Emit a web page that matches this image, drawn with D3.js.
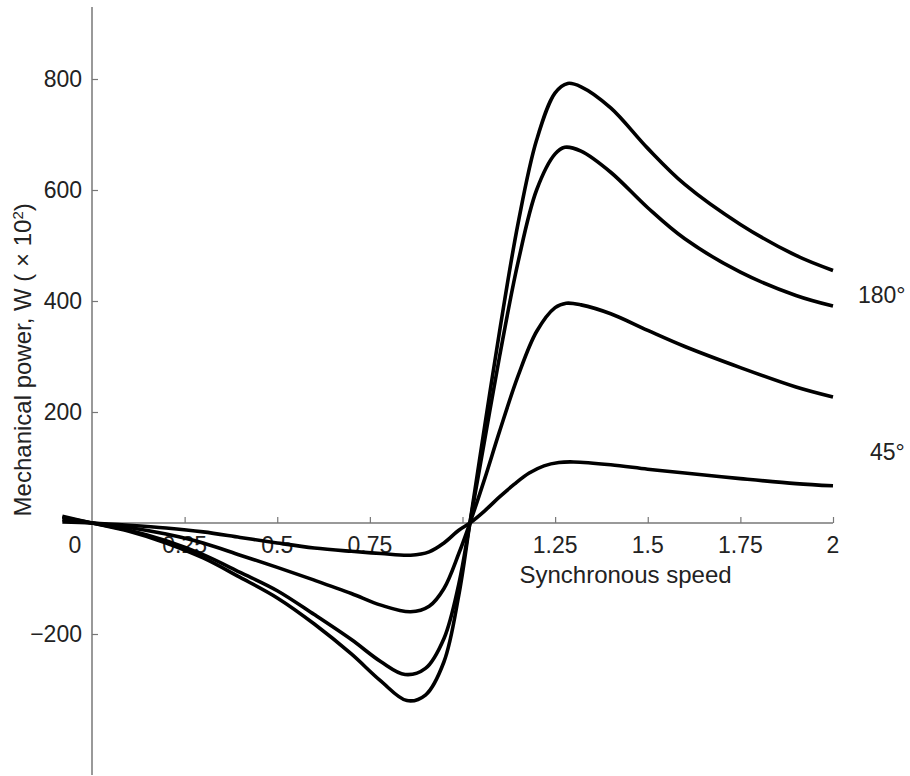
<!DOCTYPE html>
<html><head><meta charset="utf-8">
<script src="https://cdn.jsdelivr.net/npm/d3@7"></script>
<style>
body{margin:0;background:#fff;}
text{font-family:"Liberation Sans",Arial,sans-serif;fill:#222;}
</style></head>
<body><svg id="c" width="910" height="776"></svg>
<script>
// Data (speed in units of synchronous speed, power in W x 10^2)
const speed180 = [-0.08,0,0.1,0.2,0.3,0.4,0.5,0.6,0.7,0.78,0.85,0.9,0.95,0.99,1.02,1.06,1.1,1.15,1.2,1.25,1.284,1.32,1.4,1.5,1.6,1.75,1.9,2.0];
const power180 = [12,0,-15,-36,-63,-98,-135,-182,-236,-285,-320,-310,-250,-130,0,175,345,540,690,775,792,786,748,675,610,538,482,455];
const speed135 = [-0.08,0,0.1,0.2,0.3,0.4,0.5,0.6,0.7,0.78,0.845,0.9,0.95,0.99,1.02,1.06,1.1,1.15,1.2,1.25,1.276,1.32,1.4,1.5,1.6,1.75,1.9,2.0];
const power135 = [10,0,-13,-32,-57,-89,-122,-165,-210,-250,-273,-262,-208,-110,0,150,300,470,600,665,677,670,632,568,512,452,410,391];
const speed90 = [-0.08,0,0.1,0.2,0.3,0.4,0.5,0.6,0.7,0.78,0.86,0.91,0.95,0.99,1.02,1.06,1.1,1.15,1.2,1.25,1.28,1.32,1.4,1.5,1.6,1.75,1.9,2.0];
const power90 = [6,0,-8,-20,-36,-58,-80,-103,-127,-148,-160,-150,-118,-55,0,80,165,265,345,388,396,393,377,347,318,280,245,227];
const speed45 = [-0.08,0,0.1,0.2,0.3,0.4,0.5,0.6,0.7,0.78,0.86,0.91,0.95,0.99,1.02,1.06,1.1,1.14,1.18,1.22,1.26,1.3,1.4,1.5,1.6,1.75,1.9,2.0];
const power45 = [2,0,-4,-9,-16,-26,-36,-45,-51,-55,-58,-52,-36,-13,0,22,47,70,90,103,109,110,105,97,90,80,71,67];
const xTicks = [0.25,0.5,0.75,1,1.25,1.5,1.75,2];
const xTickLabels = ["0.25","0.5","0.75","","1.25","1.5","1.75","2"];
const yTicks = [-200,200,400,600,800];
const yTickLabels = ["\u2212200","200","400","600","800"];
const curveLabels = ["180\u00b0","45\u00b0"];
const curveLabelValues = [411,128];

const FS = 23, TS = 24;
const svg = d3.select("#c");
const x = d3.scaleLinear().domain([0,2]).range([92,833]);
const y = d3.scaleLinear().domain([-200,800]).range([634,79]);

// y axis
const yAxis = d3.axisRight(y).tickValues(yTicks).tickSize(6).tickFormat("");
const gy = svg.append("g").attr("transform",`translate(${x(0)},0)`).call(yAxis);
gy.select(".domain").remove();
gy.selectAll(".tick line").attr("stroke","#777").attr("stroke-width",1.2);
svg.append("line").attr("x1",x(0)).attr("x2",x(0)).attr("y1",7).attr("y2",775)
  .attr("stroke","#777").attr("stroke-width",1.5);
yTicks.forEach((v,i)=>{
  svg.append("text").attr("x",x(0)-10).attr("y",y(v)).attr("dy","0.35em")
    .attr("text-anchor","end").attr("font-size",FS).text(yTickLabels[i]);
});

// x axis
const xAxis = d3.axisTop(x).tickValues(xTicks).tickSize(6).tickFormat("");
const gx = svg.append("g").attr("transform",`translate(0,${y(0)})`).call(xAxis);
gx.select(".domain").remove();
gx.selectAll(".tick line").attr("stroke","#777").attr("stroke-width",1.2);
svg.append("line").attr("x1",x(0)).attr("x2",x(2)).attr("y1",y(0)).attr("y2",y(0))
  .attr("stroke","#777").attr("stroke-width",1.5);
xTicks.forEach((v,i)=>{
  svg.append("text").attr("x",x(v)).attr("y",y(0)+30)
    .attr("text-anchor","middle").attr("font-size",FS).text(xTickLabels[i]);
});
svg.append("text").attr("x",x(0)-17).attr("y",y(0)+30).attr("text-anchor","middle")
  .attr("font-size",FS).text("0");

// axis titles
svg.append("text").attr("x",x(1.44)).attr("y",y(0)+60).attr("text-anchor","middle")
  .attr("font-size",TS).text("Synchronous speed");
const yt = svg.append("text").attr("transform",`translate(31,${y(294)}) rotate(-90)`)
  .attr("text-anchor","middle").attr("font-size",TS);
yt.append("tspan").text("Mechanical power, W ( \u00d7 10");
yt.append("tspan").attr("dy",-8).attr("font-size",15).text("2");
yt.append("tspan").attr("dy",8).text(")");

// curves
const series = [[speed180,power180],[speed135,power135],[speed90,power90],[speed45,power45]];
const line = d3.line().x(d=>x(d[0])).y(d=>y(d[1])).curve(d3.curveCatmullRom.alpha(0.5));
series.forEach(([xs,ys])=>{
  svg.append("path").datum(xs.map((v,i)=>[v,ys[i]])).attr("d",line)
    .attr("fill","none").attr("stroke","#000").attr("stroke-width",3.6);
});

// curve labels
svg.append("text").attr("x",x(2)+25).attr("y",y(curveLabelValues[0])).attr("dy","0.35em")
  .attr("font-size",FS).text(curveLabels[0]);
svg.append("text").attr("x",x(2)+37).attr("y",y(curveLabelValues[1])).attr("dy","0.35em")
  .attr("font-size",FS).text(curveLabels[1]);
</script></body></html>
